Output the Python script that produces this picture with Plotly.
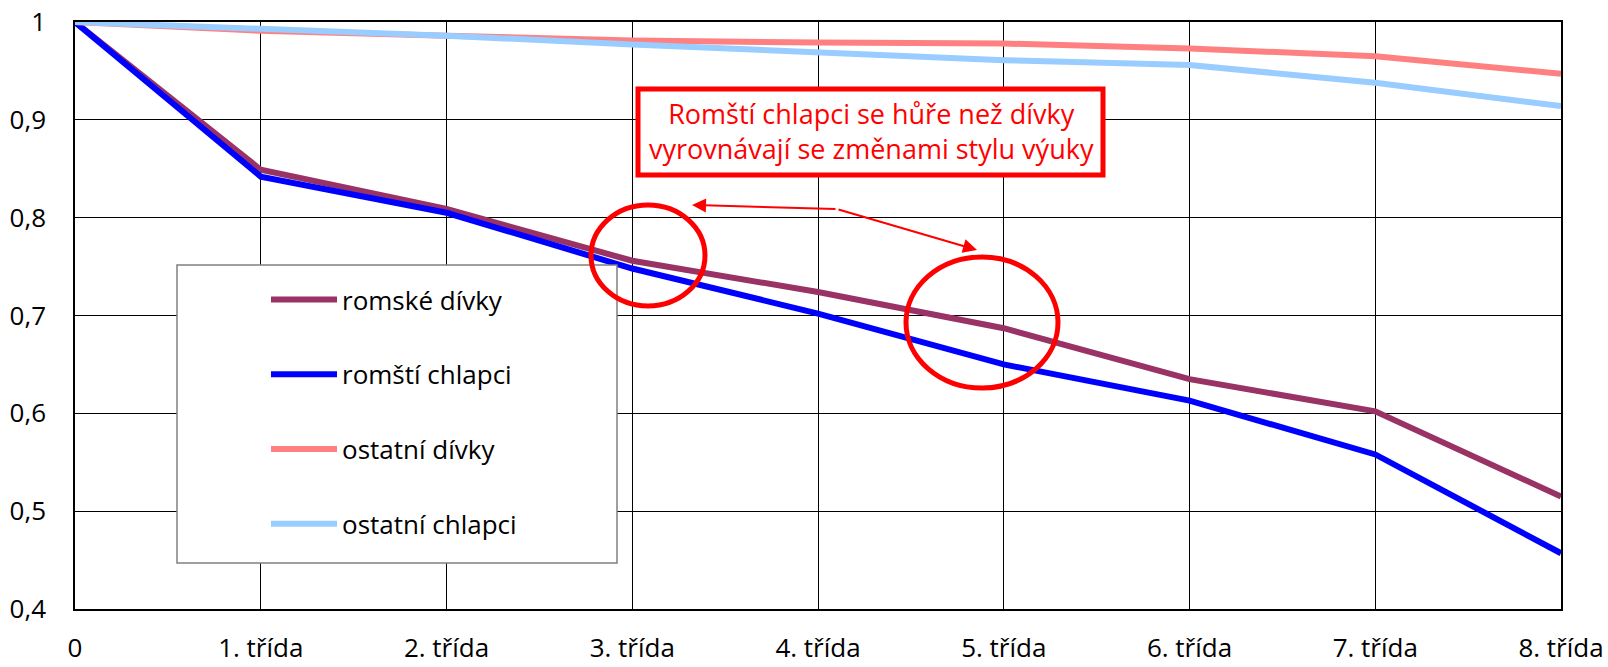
import plotly.graph_objects as go

# ---- data ----
categories = ["0", "1. třída", "2. třída", "3. třída", "4. třída",
              "5. třída", "6. třída", "7. třída", "8. třída"]
x_pos = [0, 1, 2, 3, 4, 5, 6, 7, 8]
romske_divky = [1.0, 0.849, 0.809, 0.756, 0.724, 0.687, 0.635, 0.602, 0.515]
romsti_chlapci = [1.0, 0.842, 0.805, 0.748, 0.702, 0.650, 0.613, 0.558, 0.457]
ostatni_divky = [1.0, 0.991, 0.986, 0.981, 0.979, 0.978, 0.973, 0.965, 0.947]
ostatni_chlapci = [1.0, 0.993, 0.986, 0.977, 0.969, 0.961, 0.956, 0.938, 0.914]
series_names = ["romské dívky", "romští chlapci", "ostatní dívky", "ostatní chlapci"]
y_ticks = [0.4, 0.5, 0.6, 0.7, 0.8, 0.9, 1.0]
y_tick_text = ["0,4", "0,5", "0,6", "0,7", "0,8", "0,9", "1"]
note_text = "Romští chlapci se hůře než dívky<br>vyrovnávají se změnami stylu výuky"

colors = ["#993366", "#0000FF", "#FF8080", "#99CCFF"]
FONT = "Open Sans"

# plot-area pixel geometry
L, R, T, B = 75, 1561, 22, 609
W, H = R - L, B - T


def px(xp):
    return (xp - L) / W


def py(yp):
    return (B - yp) / H


def dx(xp):
    return (xp - L) / W * 8


def dy(yp):
    return 0.4 + (B - yp) / H * 0.6


fig = go.Figure()
for i, (name, vals) in enumerate(zip(series_names,
                                     [romske_divky, romsti_chlapci, ostatni_divky, ostatni_chlapci])):
    fig.add_trace(go.Scatter(
        x=x_pos, y=vals, mode="lines", name=name,
        line=dict(color=colors[i], width=6),
        legendgroup=f"g{i}",
    ))

shapes = [
    # legend box
    dict(type="rect", xref="paper", yref="paper", x0=px(177), x1=px(617), y0=py(563), y1=py(265),
         line=dict(color="#808080", width=1.5), fillcolor="white", layer="above"),
    # note box
    dict(type="rect", xref="paper", yref="paper", x0=px(638), x1=px(1103), y0=py(175), y1=py(89),
         line=dict(color="#FF0000", width=5), fillcolor="white", layer="above"),
    # circles
    dict(type="circle", xref="paper", yref="paper", x0=px(591), x1=px(705), y0=py(306), y1=py(205),
         line=dict(color="#FF0000", width=5), layer="above"),
    dict(type="circle", xref="paper", yref="paper", x0=px(906), x1=px(1058), y0=py(388), y1=py(257),
         line=dict(color="#FF0000", width=5), layer="above"),
]

annotations = [
    dict(text=note_text, xref="paper", yref="paper", x=px(871), y=py(131),
         xanchor="center", yanchor="middle", showarrow=False, align="center",
         font=dict(family=FONT, size=27, color="#FF0000")),
    dict(text="", xref="x", yref="y", x=dx(692), y=dy(205), axref="x", ayref="y",
         ax=dx(837), ay=dy(209), showarrow=True, arrowhead=2, arrowsize=1.4,
         arrowwidth=2, arrowcolor="#FF0000"),
    dict(text="", xref="x", yref="y", x=dx(977), y=dy(250), axref="x", ayref="y",
         ax=dx(837), ay=dy(209), showarrow=True, arrowhead=2, arrowsize=1.4,
         arrowwidth=2, arrowcolor="#FF0000"),
]

fig.update_layout(
    width=1608, height=667,
    margin=dict(l=L, r=1608 - R, t=T, b=667 - B, autoexpand=False),
    paper_bgcolor="white", plot_bgcolor="white",
    font=dict(family=FONT, size=26, color="black"),
    shapes=shapes, annotations=annotations,
    showlegend=True,
    legend=dict(x=px(266), y=py(276), xanchor="left", yanchor="top",
                bgcolor="rgba(0,0,0,0)", borderwidth=0,
                font=dict(family=FONT, size=26, color="black"),
                traceorder="grouped", tracegroupgap=38, itemwidth=66),
)
fig.update_xaxes(
    range=[0, 8], tickmode="array", tickvals=x_pos, ticktext=categories,
    showgrid=True, gridcolor="black", gridwidth=1,
    showline=True, linecolor="black", linewidth=1.5, mirror=True,
    ticks="", zeroline=False, ticklabelstandoff=15, automargin=False,
)
fig.update_yaxes(
    range=[0.4, 1.0], tickmode="array", tickvals=y_ticks, ticktext=y_tick_text,
    showgrid=True, gridcolor="black", gridwidth=1,
    showline=True, linecolor="black", linewidth=1.5, mirror=True,
    ticks="", zeroline=False, ticklabelstandoff=22, automargin=False,
)

fig.write_html(
    "out.html",
    config={"displayModeBar": False},
    post_script="document.body.style.margin='0';document.body.style.overflow='hidden';",
)
